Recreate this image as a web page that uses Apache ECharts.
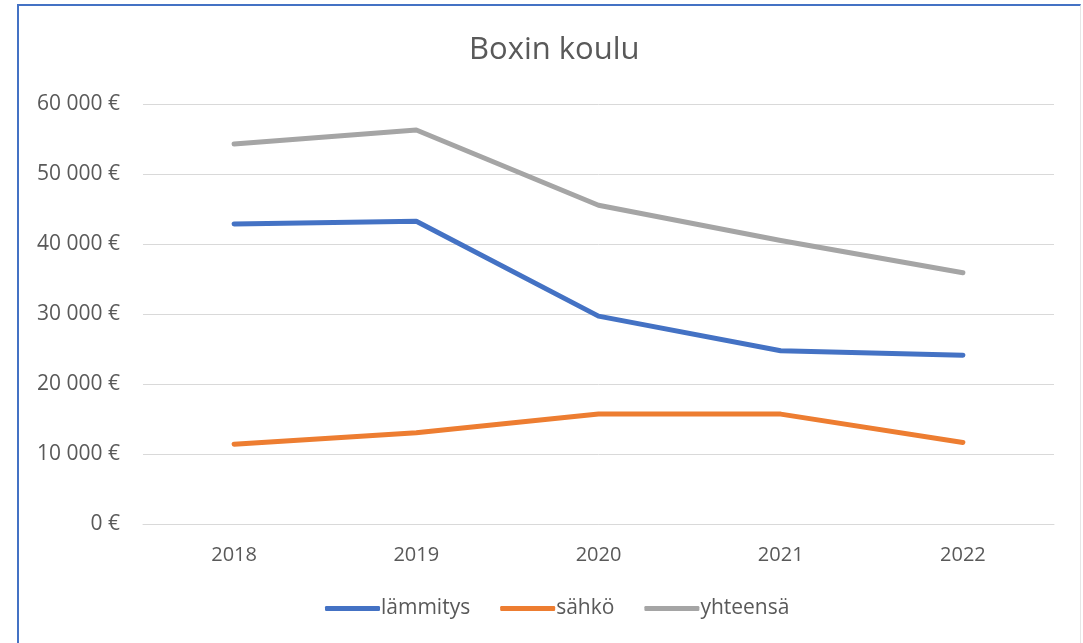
<!DOCTYPE html>
<html>
<head>
<meta charset="utf-8">
<script src="https://cdn.jsdelivr.net/npm/echarts@6/dist/echarts.min.js"></script>
<style>
  html, body { margin: 0; padding: 0; background: #fff; }
  #frame {
    position: absolute; left: 17px; top: 4px; width: 1064px; height: 660px;
    border-left: 2px solid #4472c4; border-top: 2px solid #4472c4;
    border-right: 1px solid #e6e6e6; box-sizing: border-box;
  }
  #chart { position: absolute; left: 0; top: 0; width: 1083px; height: 643px; }
</style>
</head>
<body>
<div id="frame"></div>
<div id="chart"></div>
<script>
  var years = ["2018", "2019", "2020", "2021", "2022"];
  var lammitys = [42860, 43250, 29700, 24750, 24100];
  var sahko = [11400, 13050, 15700, 15700, 11650];
  var yhteensa = [54290, 56290, 45540, 40500, 35900];
  var yTicks = [0, 10000, 20000, 30000, 40000, 50000, 60000];

  var textColor = "#595959";
  var font = "Open Sans";

  function euro(v) {
    return String(v).replace(/\B(?=(\d{3})+(?!\d))/g, " ") + " €";
  }

  function lineSeries(name, data, color) {
    return {
      name: name,
      type: "line",
      data: data,
      symbol: "none",
      lineStyle: { width: 5, color: color, cap: "round", join: "round" },
      itemStyle: { color: color },
      animation: false
    };
  }

  var chart = echarts.init(document.getElementById("chart"));
  chart.setOption({
    textStyle: { fontFamily: font },
    title: {
      text: "Boxin koulu",
      left: 464,
      top: 30,
      textStyle: { fontFamily: font, fontSize: 31, fontWeight: "normal", color: textColor }
    },
    legend: {
      bottom: 19,
      left: 320,
      icon: "roundRect",
      itemWidth: 55,
      itemHeight: 5,
      itemGap: 30,
      textStyle: { fontFamily: font, fontSize: 21, color: textColor, padding: [0, 0, 0, -4] },
      data: ["lämmitys", "sähkö", "yhteensä"]
    },
    grid: { left: 143, right: 29, top: 104, bottom: 119 },
    xAxis: {
      type: "category",
      data: years,
      boundaryGap: true,
      axisLine: { lineStyle: { color: "#d9d9d9", width: 1 } },
      axisTick: { show: false },
      axisLabel: { fontFamily: font, fontSize: 20, color: textColor, margin: 21 }
    },
    yAxis: {
      type: "value",
      min: yTicks[0],
      max: yTicks[yTicks.length - 1],
      interval: yTicks[1] - yTicks[0],
      axisLine: { show: false },
      axisTick: { show: false },
      axisLabel: { fontFamily: font, fontSize: 21, color: textColor, margin: 23, formatter: euro },
      splitLine: { lineStyle: { color: "#d9d9d9", width: 1 } }
    },
    series: [
      lineSeries("lämmitys", lammitys, "#4472c4"),
      lineSeries("sähkö", sahko, "#ed7d31"),
      lineSeries("yhteensä", yhteensa, "#a5a5a5")
    ]
  });
</script>
</body>
</html>
